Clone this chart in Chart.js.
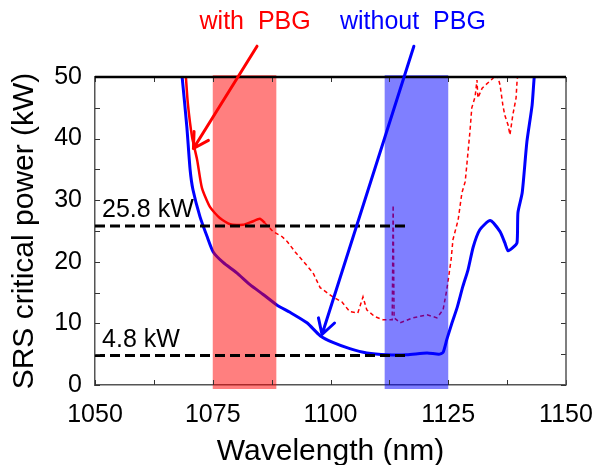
<!DOCTYPE html>
<html>
<head>
<meta charset="utf-8">
<script src="https://cdn.jsdelivr.net/npm/chart.js@4.4.1/dist/chart.umd.min.js"></script>
<style>
  html, body { margin: 0; padding: 0; background: #fff; }
</style>
</head>
<body>
<canvas id="srsChart" width="597" height="465"></canvas>
<script>
// data (wavelength in nm, power in kW)
const blueWavelength = [1068.5, 1069.5, 1070.2, 1070.8, 1072.3, 1073.8, 1075.1, 1077.2, 1080.1, 1082.9,
  1085.7, 1088.6, 1091.4, 1095.0, 1097.8, 1100.5, 1104.1, 1107.7, 1112.0, 1116.2, 1120.5, 1123.0,
  1123.9, 1124.7, 1125.8, 1126.9, 1128.1, 1129.2, 1130.3, 1131.7, 1133.9, 1136.0, 1137.0, 1137.7,
  1138.7, 1139.6, 1139.8, 1140.7, 1141.7, 1142.8, 1143.2, 1143.4];
const bluePower = [50, 41.9, 34.9, 31.7, 27.3, 24.1, 21.6, 19.9, 18.2, 16.3,
  14.7, 13.0, 11.8, 10.1, 8.0, 6.9, 5.9, 5.2, 4.9, 4.9, 5.2, 5.0,
  5.3, 7.4, 10.1, 12.6, 16.0, 18.7, 22.4, 25.2, 26.7, 24.9, 23.1, 21.8,
  22.3, 23.1, 28.0, 31.2, 39.5, 45.4, 49.5, 51];

const redWavelength = [1069.3, 1069.7, 1070.6, 1071.7, 1072.7, 1074.4, 1076.5, 1078.7, 1081.4, 1083.3, 1085.0, 1086.1];
const redPower = [50, 45.8, 40.3, 36.5, 32.0, 28.9, 27.1, 26.1, 26.0, 26.5, 27.0, 26.3];

const redDashWavelength = [1086.1, 1087.8, 1089.7, 1090.8, 1092.5, 1094.2, 1096.3, 1097.8, 1100.5, 1102.4,
  1104.1, 1105.8, 1106.9, 1107.7, 1109.4, 1111.1, 1113.1, 1113.3, 1113.5, 1114.8, 1117.5, 1120.5,
  1122.6, 1123.9, 1124.7, 1125.6, 1126.0, 1127.1, 1127.9, 1128.6, 1129.0, 1129.6, 1130.0, 1130.7,
  1131.1, 1131.3, 1132.2, 1134.5, 1135.2, 1136.0, 1136.6, 1137.0, 1137.7, 1138.1, 1138.7, 1139.4,
  1139.6, 1140.0];
const redDashPower = [26.3, 24.9, 24.1, 23.3, 21.6, 20.1, 18.2, 15.8, 14.3, 13.5,
  11.9, 11.7, 14.3, 12.2, 11.1, 10.6, 10.6, 29.2, 10.9, 10.1, 10.9, 11.4,
  10.9, 12.2, 15.5, 20.3, 23.6, 26.8, 31.2, 33.0, 36.2, 41.1, 45.0, 46.8,
  49.5, 46.6, 48.2, 49.8, 51, 48.7, 45.4, 43.8, 42.2, 40.6, 43.8, 46.6,
  49.2, 52];

const thresholdPower = [25.8, 4.8];
const thresholdLabels = ['25.8 kW', '4.8 kW'];
const thresholdLabelPos = [[1051.5, 27.3], [1051.5, 6.2]];
const thresholdRange = [1050, 1116];

const bandStart = [1075, 1111.5];
const bandEnd = [1088.5, 1125];

const arrowLabels = ['with  PBG', 'without  PBG'];
const arrowLabelPos = [[1084.0, 57.8], [1117.5, 57.8]];
const arrowFrom = [[1084.4, 55.0], [1117.7, 55.0]];
const arrowTo = [[1070.9, 38.4], [1098.2, 8.2]];

const FONT = '"Liberation Sans", Arial, sans-serif';

function zip(xs, ys) {
  return xs.map((x, i) => ({ x: x, y: ys[i] }));
}

const thresholdSets = thresholdPower.map(p => ({
  data: thresholdRange.map(x => ({ x: x, y: p })),
  borderColor: '#000',
  borderWidth: 3,
  borderDash: [10, 5],
  pointRadius: 0,
  showLine: true
}));

const overlayPlugin = {
  id: 'overlay',
  // bands go above the curves but under the black dashed lines
  beforeDatasetDraw(chart, args) {
    if (args.index !== 1) return;
    const { ctx, chartArea } = chart;
    const xs = chart.scales.x;
    const colors = ['rgba(255,0,0,0.5)', 'rgba(0,0,255,0.5)'];
    ctx.save();
    for (let i = 0; i < bandStart.length; i++) {
      const x0 = xs.getPixelForValue(bandStart[i]);
      const x1 = xs.getPixelForValue(bandEnd[i]);
      ctx.fillStyle = colors[i];
      ctx.fillRect(x0, chartArea.top - 2, x1 - x0, chartArea.bottom - chartArea.top + 6);
    }
    ctx.restore();
  },
  afterDraw(chart) {
    const { ctx, chartArea } = chart;
    const xs = chart.scales.x;
    const ys = chart.scales.y;
    ctx.save();

    // inward tick marks on all four sides
    ctx.strokeStyle = '#333';
    ctx.lineWidth = 1;
    ctx.beginPath();
    xs.ticks.forEach(t => {
      const px = Math.round(xs.getPixelForValue(t.value)) + 0.5;
      ctx.moveTo(px, chartArea.bottom); ctx.lineTo(px, chartArea.bottom - 5);
      ctx.moveTo(px, chartArea.top); ctx.lineTo(px, chartArea.top + 5);
    });
    ys.ticks.forEach(t => {
      const py = Math.round(ys.getPixelForValue(t.value)) + 0.5;
      ctx.moveTo(chartArea.left, py); ctx.lineTo(chartArea.left + 5, py);
      ctx.moveTo(chartArea.right, py); ctx.lineTo(chartArea.right - 5, py);
    });
    ctx.stroke();

    // frame: right thin, top thick black
    ctx.strokeStyle = '#555';
    ctx.lineWidth = 1.5;
    ctx.beginPath();
    ctx.moveTo(chartArea.right, chartArea.top);
    ctx.lineTo(chartArea.right, chartArea.bottom);
    ctx.stroke();
    ctx.strokeStyle = '#000';
    ctx.lineWidth = 2.5;
    ctx.beginPath();
    ctx.moveTo(chartArea.left, chartArea.top);
    ctx.lineTo(chartArea.right, chartArea.top);
    ctx.stroke();

    // threshold labels
    ctx.fillStyle = '#000';
    ctx.font = '25px ' + FONT;
    ctx.textAlign = 'left';
    ctx.textBaseline = 'alphabetic';
    thresholdLabels.forEach((txt, i) => {
      ctx.fillText(txt, xs.getPixelForValue(thresholdLabelPos[i][0]), ys.getPixelForValue(thresholdLabelPos[i][1]));
    });

    // arrows and their labels
    const colors = ['#ff0000', '#0000ff'];
    arrowFrom.forEach((from, i) => {
      const x0 = xs.getPixelForValue(from[0]);
      const y0 = ys.getPixelForValue(from[1]);
      const x1 = xs.getPixelForValue(arrowTo[i][0]);
      const y1 = ys.getPixelForValue(arrowTo[i][1]);
      const ang = Math.atan2(y0 - y1, x0 - x1);
      ctx.strokeStyle = colors[i];
      ctx.lineWidth = 3;
      ctx.lineCap = 'round';
      ctx.lineJoin = 'round';
      ctx.beginPath();
      ctx.moveTo(x0, y0);
      ctx.lineTo(x1, y1);
      ctx.moveTo(x1 + 17 * Math.cos(ang + 0.52), y1 + 17 * Math.sin(ang + 0.52));
      ctx.lineTo(x1, y1);
      ctx.lineTo(x1 + 17 * Math.cos(ang - 0.52), y1 + 17 * Math.sin(ang - 0.52));
      ctx.stroke();

      ctx.fillStyle = colors[i];
      ctx.textAlign = 'center';
      ctx.fillText(arrowLabels[i], xs.getPixelForValue(arrowLabelPos[i][0]), ys.getPixelForValue(arrowLabelPos[i][1]));
    });
    ctx.restore();
  }
};

const ctx = document.getElementById('srsChart').getContext('2d');
const srsChart = new Chart(ctx, {
  type: 'scatter',
  data: {
    datasets: [
      thresholdSets[0],
      thresholdSets[1],
      {
        data: zip(blueWavelength, bluePower),
        borderColor: '#0000ff',
        borderWidth: 3,
        pointRadius: 0,
        showLine: true,
        tension: 0.2
      },
      {
        data: zip(redWavelength, redPower),
        borderColor: '#ff0000',
        borderWidth: 2.5,
        pointRadius: 0,
        showLine: true,
        tension: 0.2
      },
      {
        data: zip(redDashWavelength, redDashPower),
        borderColor: '#ff0000',
        borderWidth: 1.5,
        borderDash: [4, 3],
        pointRadius: 0,
        showLine: true,
        tension: 0
      }
    ]
  },
  options: {
    responsive: false,
    animation: false,
    layout: { padding: { top: 77, right: 31, left: 0, bottom: 0 } },
    plugins: {
      legend: { display: false },
      tooltip: { enabled: false }
    },
    scales: {
      x: {
        type: 'linear',
        min: 1050,
        max: 1150,
        afterFit: s => { s.height = 80; s.paddingLeft = 0; s.paddingRight = 0; },
        grid: { display: true, drawOnChartArea: false, drawTicks: false },
        border: { display: true, color: '#555', width: 1.5 },
        ticks: {
          stepSize: 12.5,
          autoSkip: false,
          maxRotation: 0,
          padding: 15,
          color: '#000',
          font: { family: FONT, size: 25 },
          callback: v => (v % 25 === 0 ? v : '')
        },
        title: {
          display: true,
          text: 'Wavelength (nm)',
          color: '#000',
          font: { family: FONT, size: 30, lineHeight: 0.9 },
          padding: 0
        }
      },
      y: {
        min: 0,
        max: 50,
        afterFit: s => { s.width = 95; s.paddingTop = 0; s.paddingBottom = 0; },
        grid: { display: true, drawOnChartArea: false, drawTicks: false },
        border: { display: true, color: '#555', width: 1.5 },
        ticks: {
          stepSize: 5,
          autoSkip: false,
          padding: 13,
          color: '#000',
          font: { family: FONT, size: 25 },
          callback: v => (v % 10 === 0 ? v : '')
        },
        title: {
          display: true,
          text: 'SRS critical power (kW)',
          color: '#000',
          font: { family: FONT, size: 30, lineHeight: 1.0 },
          padding: { top: 10, bottom: 0 }
        }
      }
    }
  },
  plugins: [overlayPlugin]
});
</script>
</body>
</html>
